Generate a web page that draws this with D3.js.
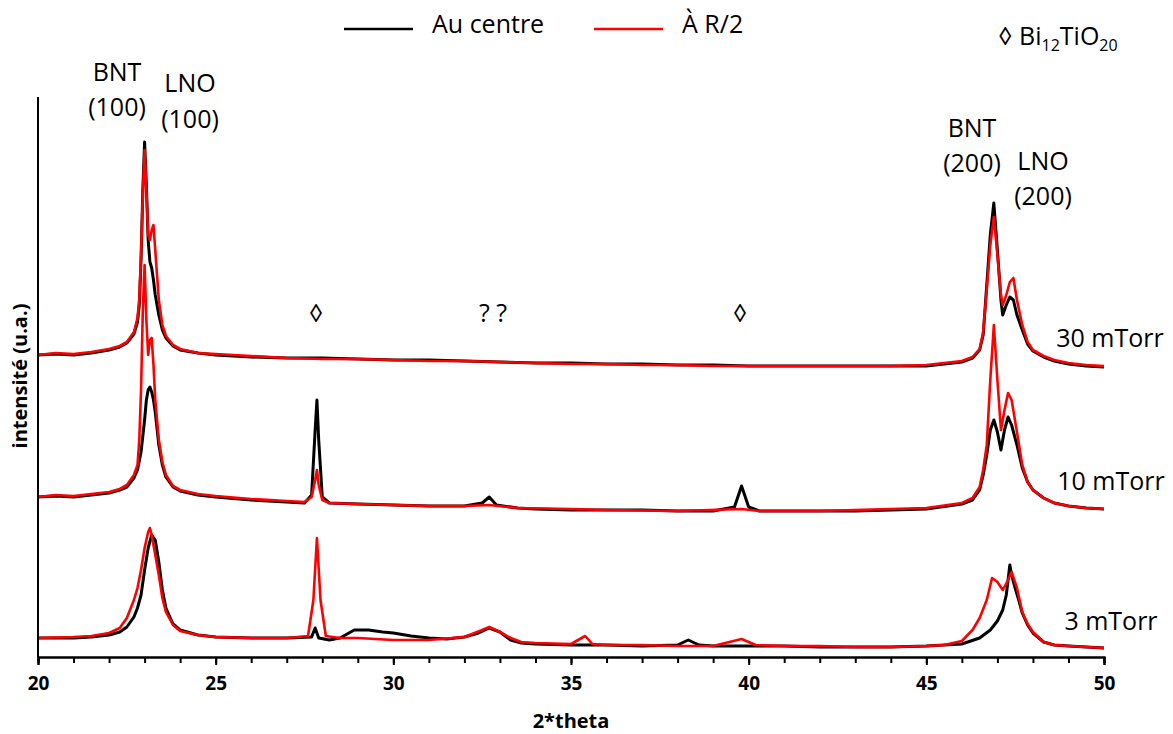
<!DOCTYPE html>
<html>
<head>
<meta charset="utf-8">
<script src="https://cdn.jsdelivr.net/npm/d3@7/dist/d3.min.js"></script>
<style>
  html, body { margin: 0; padding: 0; background: #fff; }
  svg { display: block; }
  text { font-family: "Open Sans", "Liberation Sans", sans-serif; fill: #000; }
</style>
</head>
<body>
<svg id="chart" width="1173" height="734"></svg>
<script>
// ---- data (2θ in degrees, intensity in arbitrary units incl. stacking offset) ----
const xTicksMajor = [20, 25, 30, 35, 40, 45, 50];
const xTicksMinor = d3.range(20, 51, 1);

const black30 = [[20,301],[20.5,302],[21,301],[21.5,303],[22,306],[22.3,309],[22.5,313],[22.7,322],[22.8,334],[22.85,351],[22.9,396],[22.95,466],[23.0,514],[23.05,471],[23.1,416],[23.15,394],[23.2,388],[23.25,376],[23.3,361],[23.4,341],[23.5,326],[23.6,318],[23.8,310],[24,306],[24.5,303],[25,301],[26,299],[27,298],[28,298],[29,297],[30,296],[31,296],[32,295],[33,294],[34,293],[35,293],[36,292],[37,292],[38,291],[39,291],[40,290],[42,290],[44,290],[45,290],[46,294],[46.3,298],[46.5,306],[46.6,321],[46.7,371],[46.8,421],[46.9,453],[47.0,406],[47.1,356],[47.15,341],[47.25,351],[47.35,359],[47.45,356],[47.55,341],[47.7,326],[47.85,312],[48,305],[48.3,299],[48.6,295],[49,292],[49.5,290],[50,289]];
const red30 = [[20,301],[20.5,303],[21,302],[21.5,304],[22,307],[22.3,310],[22.5,314],[22.7,324],[22.8,338],[22.85,356],[22.9,401],[22.95,461],[23.0,506],[23.05,466],[23.1,421],[23.15,416],[23.2,426],[23.25,431],[23.3,406],[23.4,356],[23.5,331],[23.6,320],[23.8,311],[24,307],[24.5,303],[25,302],[26,300],[27,298],[28,297],[29,297],[30,296],[31,295],[32,295],[33,294],[34,293],[35,292],[36,292],[37,291],[38,291],[39,290],[40,290],[42,290],[44,290],[45,291],[46,295],[46.3,299],[46.5,307],[46.6,324],[46.7,366],[46.8,411],[46.9,439],[47.0,401],[47.1,361],[47.15,351],[47.25,361],[47.35,374],[47.45,378],[47.55,356],[47.7,331],[47.85,314],[48,306],[48.3,300],[48.6,296],[49,293],[49.5,291],[50,290]];

const black10 = [[20,159],[20.5,160],[21,159],[21.5,161],[22,163],[22.3,166],[22.5,169],[22.7,178],[22.8,186],[22.9,204],[23.0,236],[23.05,256],[23.1,266],[23.15,269],[23.2,264],[23.25,256],[23.3,244],[23.4,211],[23.5,191],[23.6,179],[23.8,169],[24,165],[24.5,161],[25,159],[26,156],[27,154],[27.5,153],[27.7,161],[27.8,226],[27.85,256],[27.9,216],[28.0,159],[28.2,153],[29,152],[30,151],[31,150],[32,150],[32.5,153],[32.7,159],[32.9,151],[33.5,148],[34,147],[35,146],[36,146],[37,146],[38,145],[39,145],[39.6,149],[39.8,170],[40.0,149],[40.3,145],[41,145],[42,145],[43,145],[44,146],[45,147],[46,152],[46.3,156],[46.5,166],[46.6,181],[46.7,201],[46.8,226],[46.9,236],[47.0,224],[47.1,206],[47.2,226],[47.3,239],[47.4,231],[47.55,211],[47.7,188],[47.85,174],[48,166],[48.3,158],[48.6,153],[49,150],[49.5,148],[50,147]];
const red10 = [[20,159],[20.5,161],[21,160],[21.5,162],[22,164],[22.3,167],[22.5,171],[22.7,181],[22.8,191],[22.85,216],[22.9,266],[22.95,346],[23.0,391],[23.05,336],[23.1,301],[23.15,316],[23.2,318],[23.25,291],[23.3,256],[23.4,216],[23.5,194],[23.6,181],[23.8,170],[24,166],[24.5,162],[25,160],[26,157],[27,155],[27.5,154],[27.7,159],[27.8,176],[27.85,186],[27.9,171],[28.0,156],[28.2,153],[29,152],[30,151],[31,150],[32,150],[32.7,151],[33.5,148],[35,147],[36,146],[38,145],[39.8,147],[40.3,145],[42,145],[44,147],[45,148],[46,153],[46.3,158],[46.5,169],[46.6,186],[46.7,211],[46.8,276],[46.9,331],[47.0,276],[47.1,226],[47.2,246],[47.3,263],[47.4,256],[47.55,224],[47.7,191],[47.85,174],[48,166],[48.3,158],[48.6,153],[49,150],[49.5,148],[50,147]];

const black3 = [[20,18],[21,18],[21.5,19],[22,21],[22.3,24],[22.5,29],[22.7,39],[22.8,48],[22.9,61],[23.0,86],[23.1,108],[23.2,121],[23.3,116],[23.4,94],[23.5,66],[23.6,48],[23.8,32],[24,26],[24.5,21],[25,19],[26,18],[27,18],[27.7,19],[27.8,28],[27.9,18],[28.2,16],[28.5,18],[28.9,26],[29.3,26],[29.7,24],[30,23],[30.5,20],[31,18],[31.5,17],[32,19],[32.4,23],[32.7,28],[33,24],[33.3,16],[33.6,13],[34,12],[35,11],[36,11],[37,10],[38,11],[38.3,16],[38.6,11],[39,10],[40,10],[41,10],[42,9],[43,9],[44,9],[45,10],[46,12],[46.5,18],[46.8,26],[47.0,35],[47.15,46],[47.25,61],[47.35,91],[47.4,81],[47.5,68],[47.6,56],[47.7,43],[47.85,31],[48,23],[48.3,14],[48.6,11],[49,10],[49.5,9],[50,8]];
const red3 = [[20,18],[21,19],[21.5,20],[22,23],[22.3,28],[22.5,38],[22.7,56],[22.8,68],[22.9,86],[23.0,108],[23.1,124],[23.15,128],[23.2,121],[23.3,101],[23.4,81],[23.5,58],[23.6,44],[23.8,31],[24,25],[24.5,21],[25,19],[26,18],[27,18],[27.6,20],[27.75,56],[27.85,118],[27.95,56],[28.1,20],[28.5,18],[29,18],[29.5,17],[30,16],[31,16],[32,19],[32.5,26],[32.7,29],[33,24],[33.3,18],[33.6,14],[34,13],[35,12],[35.4,20],[35.6,12],[36,11],[37,11],[38,10],[39,10],[39.8,17],[40.2,11],[41,10],[42,10],[43,9],[44,9],[45,10],[45.5,11],[46,15],[46.3,26],[46.5,38],[46.7,56],[46.85,78],[47.0,74],[47.15,66],[47.3,76],[47.4,84],[47.55,68],[47.7,44],[47.85,32],[48,24],[48.3,14],[48.6,11],[49,10],[49.5,9],[50,8]];

const seriesNames = ["Au centre", "À R/2"];
const seriesColors = ["#000000", "#ff0000"];
const pressureLabels = ["30 mTorr", "10 mTorr", "3 mTorr"];

// ---- layout ----
const svg = d3.select("#chart");
const X0 = 38, X1 = 1104, Y0 = 657, Y1 = 97;
const x = d3.scaleLinear().domain([20, 50]).range([X0, X1]);
const y = d3.scaleLinear().domain([0, 560]).range([Y0 - 1, Y0 - 561]);

const line = d3.line().x(d => x(d[0])).y(d => y(d[1]));

const plot = svg.append("g");
[black30, black10, black3].forEach(s => {
  plot.append("path").datum(s).attr("d", line)
    .attr("fill", "none").attr("stroke", seriesColors[0]).attr("stroke-width", 3).attr("stroke-linejoin", "round");
});
[red30, red10, red3].forEach(s => {
  plot.append("path").datum(s).attr("d", line)
    .attr("fill", "none").attr("stroke", seriesColors[1]).attr("stroke-width", 2.6).attr("stroke-linejoin", "round");
});

// axes
const xAxisMinor = d3.axisBottom(x).tickValues(xTicksMinor).tickSize(6).tickFormat("");
const xAxisMajor = d3.axisBottom(x).tickValues(xTicksMajor).tickSize(8).tickFormat(d3.format("d")).tickPadding(12);
const gMinor = svg.append("g").attr("transform", `translate(0,${Y0})`).call(xAxisMinor);
const gMajor = svg.append("g").attr("transform", `translate(0,${Y0})`).call(xAxisMajor);
[gMinor, gMajor].forEach(g => {
  g.select(".domain").attr("stroke", "#000").attr("stroke-width", 2);
  g.selectAll(".tick line").attr("stroke", "#000").attr("stroke-width", 2);
});
gMajor.selectAll(".tick text").attr("font-size", 19).attr("font-weight", "bold")
  .attr("font-family", "'Open Sans', sans-serif").attr("fill", "#000");

svg.append("line").attr("x1", X0).attr("x2", X0).attr("y1", Y1).attr("y2", Y0)
  .attr("stroke", "#000").attr("stroke-width", 2);

// axis titles
svg.append("text").attr("x", 571).attr("y", 728).attr("text-anchor", "middle")
  .attr("font-size", 20).attr("font-weight", "bold").text("2*theta");
svg.append("text").attr("transform", "translate(27,376) rotate(-90)").attr("text-anchor", "middle")
  .attr("font-size", 20).attr("font-weight", "bold").text("intensité (u.a.)");

// legend
const legend = [{x1: 344, x2: 413, tx: 432}, {x1: 594, x2: 663, tx: 682}];
legend.forEach((l, i) => {
  svg.append("line").attr("x1", l.x1).attr("x2", l.x2).attr("y1", 29).attr("y2", 29)
    .attr("stroke", seriesColors[i]).attr("stroke-width", 2.5);
  svg.append("text").attr("x", l.tx).attr("y", 33).attr("font-size", 25).text(seriesNames[i]);
});

// phase legend
const bi = svg.append("text").attr("x", 998).attr("y", 45).attr("font-size", 25);
bi.append("tspan").text("◊ Bi");
bi.append("tspan").attr("font-size", 16).attr("dy", 6).text("12");
bi.append("tspan").attr("dy", -6).text("TiO");
bi.append("tspan").attr("font-size", 16).attr("dy", 6).text("20");

// peak annotations
const ann = [
  {t: "BNT", x: 117, y: 81}, {t: "(100)", x: 117, y: 116},
  {t: "LNO", x: 190, y: 92}, {t: "(100)", x: 190, y: 128},
  {t: "BNT", x: 972, y: 137}, {t: "(200)", x: 972, y: 172},
  {t: "LNO", x: 1043, y: 170}, {t: "(200)", x: 1043, y: 205},
  {t: "◊", x: 316, y: 322}, {t: "? ?", x: 493, y: 322}, {t: "◊", x: 740, y: 322}
];
ann.forEach(a => svg.append("text").attr("x", a.x).attr("y", a.y).attr("text-anchor", "middle")
  .attr("font-size", 25).text(a.t));

const pl = [{x: 1110, y: 347}, {x: 1111, y: 490}, {x: 1111, y: 630}];
pl.forEach((p, i) => svg.append("text").attr("x", p.x).attr("y", p.y).attr("text-anchor", "middle")
  .attr("font-size", 25).text(pressureLabels[i]));
</script>
</body>
</html>
